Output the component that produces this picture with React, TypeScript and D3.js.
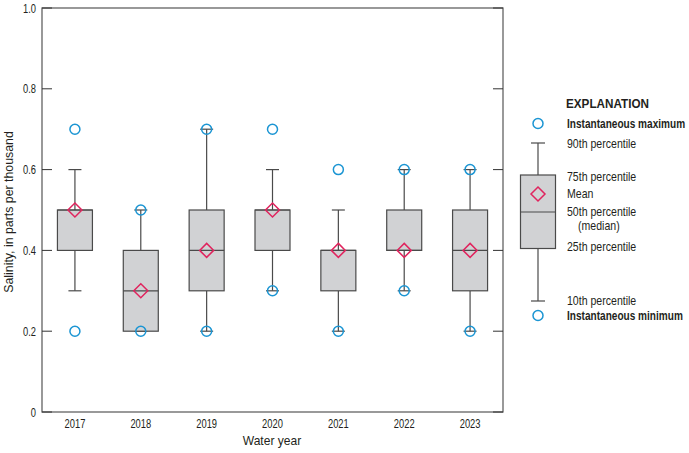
import React from "react";
import * as d3 from "d3";

const years = ["2017", "2018", "2019", "2020", "2021", "2022", "2023"];
const maxVals = [0.7, 0.5, 0.7, 0.7, 0.6, 0.6, 0.6];
const p90 = [0.6, 0.5, 0.7, 0.6, 0.5, 0.6, 0.6];
const p75 = [0.5, 0.4, 0.5, 0.5, 0.4, 0.5, 0.5];
const medians = [0.5, 0.3, 0.4, 0.5, 0.4, 0.4, 0.4];
const p25 = [0.4, 0.2, 0.3, 0.4, 0.3, 0.4, 0.3];
const p10 = [0.3, 0.2, 0.2, 0.3, 0.2, 0.3, 0.2];
const minVals = [0.2, 0.2, 0.2, 0.3, 0.2, 0.3, 0.2];
const means = [0.5, 0.3, 0.4, 0.5, 0.4, 0.4, 0.4];
const yTicks = [0, 0.2, 0.4, 0.6, 0.8, 1.0];

const FONT = "'Liberation Sans', Arial, sans-serif";
const BLUE = "#1b95d3";
const PINK = "#e0245e";
const BOXFILL = "#d1d2d4";
const STROKE = "#4a4a4a";
const TXT = "#231f20";

function T(props: {
  x: number; y: number; sx: number; size: number; anchor?: string; bold?: boolean; rotate?: number; children: React.ReactNode;
}) {
  const { x, y, sx, size, anchor = "start", bold = false, rotate = 0, children } = props;
  return (
    <text
      transform={`translate(${x},${y}) rotate(${rotate}) scale(${sx},1)`}
      textAnchor={anchor}
      fontSize={size}
      fontWeight={bold ? "bold" : "normal"}
      fill={TXT}
    >
      {children}
    </text>
  );
}

export default function App() {
  const left = 42, right = 503, top = 8, bottom = 412;
  const x = d3.scaleBand<string>().domain(years).range([left, right]);
  const y = d3.scaleLinear().domain([0, 1]).range([bottom, top]);
  const bw = 35, cap = 13, r = 5, dm = 7;

  const diamond = (cx: number, cy: number) =>
    `M${cx},${cy - dm}L${cx + dm},${cy}L${cx},${cy + dm}L${cx - dm},${cy}Z`;

  const lx = 538;
  const leg = { max: 123.5, p90: 143, p75: 175, mean: 194, med: 212, p25: 248.5, p10: 301, min: 315.5 };
  const ls = 0.88;

  return (
    <svg width={689} height={453} style={{ position: "absolute", left: 0, top: 0 }} fontFamily={FONT}>
      <rect x={0} y={0} width={689} height={453} fill="white" />
      {years.map((yr, i) => {
        const cx = x(yr)! + x.bandwidth() / 2;
        return (
          <g key={yr}>
            <line x1={cx} x2={cx} y1={y(p90[i])} y2={y(p75[i])} stroke={STROKE} strokeWidth={1.2} />
            <line x1={cx} x2={cx} y1={y(p25[i])} y2={y(p10[i])} stroke={STROKE} strokeWidth={1.2} />
            <line x1={cx - cap / 2} x2={cx + cap / 2} y1={y(p90[i])} y2={y(p90[i])} stroke={STROKE} strokeWidth={1.2} />
            <line x1={cx - cap / 2} x2={cx + cap / 2} y1={y(p10[i])} y2={y(p10[i])} stroke={STROKE} strokeWidth={1.2} />
            <rect x={cx - bw / 2} y={y(p75[i])} width={bw} height={y(p25[i]) - y(p75[i])} fill={BOXFILL} stroke={STROKE} strokeWidth={1.2} />
            <line x1={cx - bw / 2} x2={cx + bw / 2} y1={y(medians[i])} y2={y(medians[i])} stroke={STROKE} strokeWidth={1.2} />
            <circle cx={cx} cy={y(maxVals[i])} r={r} fill="none" stroke={BLUE} strokeWidth={1.5} />
            <circle cx={cx} cy={y(minVals[i])} r={r} fill="none" stroke={BLUE} strokeWidth={1.5} />
            <path d={diamond(cx, y(means[i]))} fill="none" stroke={PINK} strokeWidth={1.5} />
            <T x={cx} y={428} sx={0.72} size={13} anchor="middle">{yr}</T>
          </g>
        );
      })}
      <rect x={left} y={top} width={right - left} height={bottom - top} fill="none" stroke="#555" strokeWidth={1.2} />
      {yTicks.map((t) => (
        <g key={t}>
          <line x1={left} x2={left + 10} y1={y(t)} y2={y(t)} stroke="#333" strokeWidth={1} />
          <line x1={right - 10} x2={right} y1={y(t)} y2={y(t)} stroke="#333" strokeWidth={1} />
          <T x={36} y={y(t) + 4.6} sx={0.72} size={13} anchor="end">{t === 0 ? "0" : t.toFixed(1)}</T>
        </g>
      ))}
      <T x={272} y={445} sx={0.93} size={13} anchor="middle">Water year</T>
      <T x={13} y={212} sx={0.95} size={13} anchor="middle" rotate={-90}>Salinity, in parts per thousand</T>

      <T x={566} y={107.5} sx={0.9} size={13} bold>EXPLANATION</T>
      <circle cx={lx} cy={leg.max} r={r} fill="none" stroke={BLUE} strokeWidth={1.5} />
      <line x1={lx} x2={lx} y1={leg.p90} y2={leg.p75} stroke={STROKE} strokeWidth={1.2} />
      <line x1={lx} x2={lx} y1={leg.p25} y2={leg.p10} stroke={STROKE} strokeWidth={1.2} />
      <line x1={lx - 7} x2={lx + 7} y1={leg.p90} y2={leg.p90} stroke={STROKE} strokeWidth={1.2} />
      <line x1={lx - 7} x2={lx + 7} y1={leg.p10} y2={leg.p10} stroke={STROKE} strokeWidth={1.2} />
      <rect x={lx - 17.5} y={leg.p75} width={35} height={leg.p25 - leg.p75} fill={BOXFILL} stroke={STROKE} strokeWidth={1.2} />
      <line x1={lx - 17.5} x2={lx + 17.5} y1={leg.med} y2={leg.med} stroke={STROKE} strokeWidth={1.2} />
      <path d={diamond(lx, leg.mean)} fill="none" stroke={PINK} strokeWidth={1.5} />
      <circle cx={lx} cy={leg.min} r={r} fill="none" stroke={BLUE} strokeWidth={1.5} />
      <T x={567} y={128} sx={0.84} size={12} bold>Instantaneous maximum</T>
      <T x={567} y={147.5} sx={ls} size={12}>90th percentile</T>
      <T x={567} y={180.5} sx={ls} size={12}>75th percentile</T>
      <T x={567} y={197.5} sx={ls} size={12}>Mean</T>
      <T x={567} y={215.5} sx={ls} size={12}>50th percentile</T>
      <T x={578} y={230} sx={ls} size={12}>(median)</T>
      <T x={567} y={250.5} sx={ls} size={12}>25th percentile</T>
      <T x={567} y={304.5} sx={ls} size={12}>10th percentile</T>
      <T x={567} y={320} sx={0.84} size={12} bold>Instantaneous minimum</T>
    </svg>
  );
}
